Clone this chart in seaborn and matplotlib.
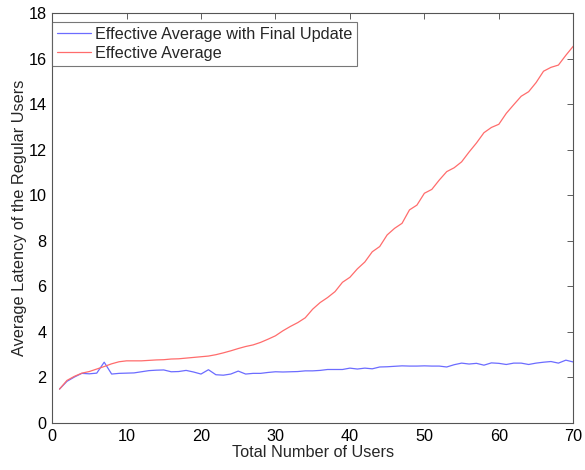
import pandas as pd
import matplotlib
matplotlib.use('Agg')
import matplotlib.pyplot as plt
import seaborn as sns

# Values
users = list(range(1, 71))

final_update = [1.49, 1.83, 2.02, 2.18, 2.16, 2.19, 2.67, 2.15, 2.18, 2.19,
                 2.20, 2.25, 2.30, 2.32, 2.33, 2.25, 2.26, 2.31, 2.24, 2.15,
                 2.34, 2.12, 2.10, 2.15, 2.28, 2.15, 2.18, 2.18, 2.22, 2.25,
                 2.24, 2.25, 2.26, 2.29, 2.29, 2.31, 2.35, 2.35, 2.35, 2.41,
                 2.37, 2.41, 2.38, 2.46, 2.47, 2.49, 2.51, 2.50, 2.50, 2.51,
                 2.50, 2.50, 2.46, 2.56, 2.63, 2.59, 2.62, 2.54, 2.64, 2.62,
                 2.57, 2.63, 2.63, 2.57, 2.63, 2.67, 2.70, 2.63, 2.76, 2.68]

effective = [1.49, 1.87, 2.05, 2.19, 2.26, 2.37, 2.48, 2.60, 2.69, 2.73,
             2.73, 2.73, 2.75, 2.77, 2.78, 2.81, 2.82, 2.85, 2.88, 2.91,
             2.94, 3.00, 3.08, 3.17, 3.27, 3.36, 3.43, 3.54, 3.68, 3.83,
             4.05, 4.24, 4.41, 4.62, 5.00, 5.29, 5.51, 5.77, 6.18, 6.40,
             6.77, 7.07, 7.52, 7.75, 8.26, 8.55, 8.77, 9.36, 9.57, 10.09,
             10.26, 10.67, 11.04, 11.21, 11.47, 11.90, 12.30, 12.75, 12.98, 13.12,
             13.60, 13.98, 14.35, 14.55, 14.95, 15.45, 15.62, 15.72, 16.15, 16.55]

labels = ['Effective Average with Final Update', 'Effective Average']

df = pd.DataFrame({
    'Users': users * 2,
    'Latency': final_update + effective,
    'Series': [labels[0]] * len(users) + [labels[1]] * len(users),
})

sns.set_style('white')
plt.rcParams['font.family'] = ['Liberation Sans', 'DejaVu Sans']
fs = 11.7

fig = plt.figure(figsize=(5.85, 4.7), dpi=100)
ax = fig.add_axes([0.089, 0.1, 0.891, 0.872])

sns.lineplot(data=df, x='Users', y='Latency', hue='Series',
             palette=['#6c6cff', '#ff6c6c'], linewidth=0.9, ax=ax)

ax.set_xlim(0, 70)
ax.set_ylim(0, 18)
ax.set_xticks(range(0, 71, 10))
ax.set_yticks(range(0, 19, 2))
ax.set_xlabel('Total Number of Users', fontsize=fs, labelpad=1)
ax.set_ylabel('Average Latency of the Regular Users', fontsize=fs, labelpad=1)
ax.tick_params(direction='in', length=4, width=0.6, colors='#444444',
               labelcolor='black', labelsize=fs, top=True, right=True, pad=4)
for s in ax.spines.values():
    s.set_color('#555555')
    s.set_linewidth(0.8)

leg = ax.legend(loc='upper left', bbox_to_anchor=(0.0, 0.978), borderaxespad=0,
                frameon=True, fancybox=False, fontsize=fs, handlelength=2.1,
                borderpad=0.3, labelspacing=0.25, handletextpad=0.25)
leg.get_frame().set_edgecolor('#555555')
leg.get_frame().set_linewidth(0.8)

fig.savefig('out.png', dpi=100)
